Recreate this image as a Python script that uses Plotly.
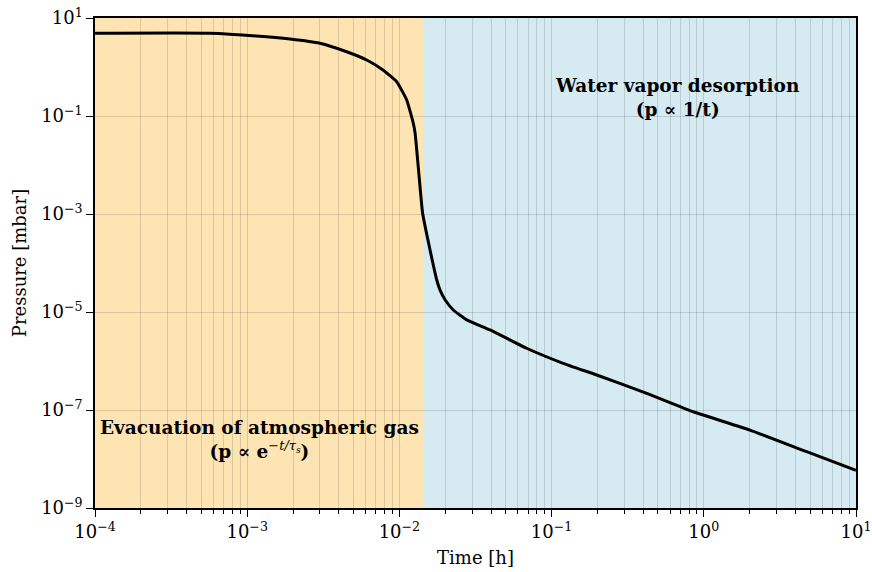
import plotly.graph_objects as go

# Data (time in h, pressure in mbar)
time_h = [1e-4, 5.7e-4, 1.15e-3, 1.91e-3, 3.0e-3, 4.5e-3, 6.1e-3, 7.8e-3, 9.6e-3,
          1.117e-2, 1.233e-2, 1.268e-2, 1.33e-2, 1.42e-2, 1.59e-2, 1.76e-2, 1.85e-2,
          2.0e-2, 2.26e-2, 2.77e-2, 3.94e-2, 6.85e-2, 0.119, 0.198, 0.422, 0.853,
          2.01, 4.74, 10.0]
pressure_mbar = [4.9, 4.9, 4.3, 3.72, 3.05, 2.05, 1.39, 0.87, 0.50,
                 0.212, 0.072, 0.045, 9.2e-3, 1.05e-3, 1.84e-4, 4.5e-5, 2.8e-5,
                 1.76e-5, 1.1e-5, 6.9e-6, 4.3e-6, 1.82e-6, 8.97e-7, 5.18e-7, 2.19e-7, 9.2e-8,
                 3.9e-8, 1.41e-8, 5.9e-9]

t_start = 1e-4
t_switch = 0.0143
t_end = 10.0

x_tick_vals = [1e-4, 1e-3, 1e-2, 1e-1, 1, 10]
x_tick_text = ["10<sup>−4</sup>", "10<sup>−3</sup>", "10<sup>−2</sup>",
               "10<sup>−1</sup>", "10<sup>0</sup>", "10<sup>1</sup>"]
y_tick_vals = [10, 1e-1, 1e-3, 1e-5, 1e-7, 1e-9]
y_tick_text = ["10<sup>1</sup>", "10<sup>−1</sup>", "10<sup>−3</sup>",
               "10<sup>−5</sup>", "10<sup>−7</sup>", "10<sup>−9</sup>"]

x_minor_vals = [m * 10.0 ** e for e in range(-4, 1) for m in range(2, 10)]

label_left = "<b>Evacuation of atmospheric gas</b><br><b>(p ∝ e</b><sup><i>−t/τ<sub>s</sub></i></sup><b>)</b>"
label_right = "<b>Water vapor desorption</b><br><b>(p ∝ 1/t)</b>"

FONT = "DejaVu Serif"
GRID = "rgba(0,0,0,0.13)"

fig = go.Figure()
fig.add_trace(go.Scatter(x=time_h, y=pressure_mbar, mode="lines",
                         line=dict(color="black", width=3, shape="spline", smoothing=0.4),
                         showlegend=False))

fig.add_shape(type="rect", xref="x", yref="paper", x0=t_start, x1=t_switch, y0=0, y1=1,
              fillcolor="rgb(254,228,179)", line=dict(width=0), layer="below")
fig.add_shape(type="rect", xref="x", yref="paper", x0=t_switch, x1=t_end, y0=0, y1=1,
              fillcolor="rgb(213,234,241)", line=dict(width=0), layer="below")

fig.add_annotation(x=-2.916, y=-7.6, xref="x", yref="y", text=label_left, showarrow=False,
                   font=dict(family=FONT, size=18.5, color="black"), align="center")
fig.add_annotation(x=-0.176, y=-0.63, xref="x", yref="y", text=label_right, showarrow=False,
                   font=dict(family=FONT, size=18.5, color="black"), align="center")

fig.update_xaxes(type="log", range=[-4, 1], tickmode="array", tickvals=x_tick_vals,
                 ticktext=x_tick_text, ticks="outside", ticklen=7, tickwidth=1.2,
                 tickcolor="black", showline=True, linecolor="black", linewidth=1.5,
                 mirror=True, showgrid=True, gridcolor=GRID, gridwidth=1,
                 minor=dict(tickmode="array", tickvals=x_minor_vals, ticks="outside",
                            ticklen=4, tickcolor="black", showgrid=True,
                            gridcolor=GRID, gridwidth=1),
                 title=dict(text="Time [h]", font=dict(family=FONT, size=18), standoff=10),
                 tickfont=dict(family=FONT, size=18, color="black"), zeroline=False,
                 automargin=False)
fig.update_yaxes(type="log", range=[-9, 1], tickmode="array", tickvals=y_tick_vals,
                 ticktext=y_tick_text, ticks="outside", ticklen=7, tickwidth=1.2,
                 tickcolor="black", showline=True, linecolor="black", linewidth=1.5,
                 mirror=True, showgrid=True, gridcolor=GRID, gridwidth=1,
                 title=dict(text="Pressure [mbar]", font=dict(family=FONT, size=18), standoff=10),
                 tickfont=dict(family=FONT, size=18, color="black"), zeroline=False,
                 automargin=False)

fig.update_layout(width=872, height=572, margin=dict(l=95, r=16, t=18, b=64),
                  paper_bgcolor="white", plot_bgcolor="white",
                  font=dict(family=FONT, color="black"))

fig.write_html("out.html")
